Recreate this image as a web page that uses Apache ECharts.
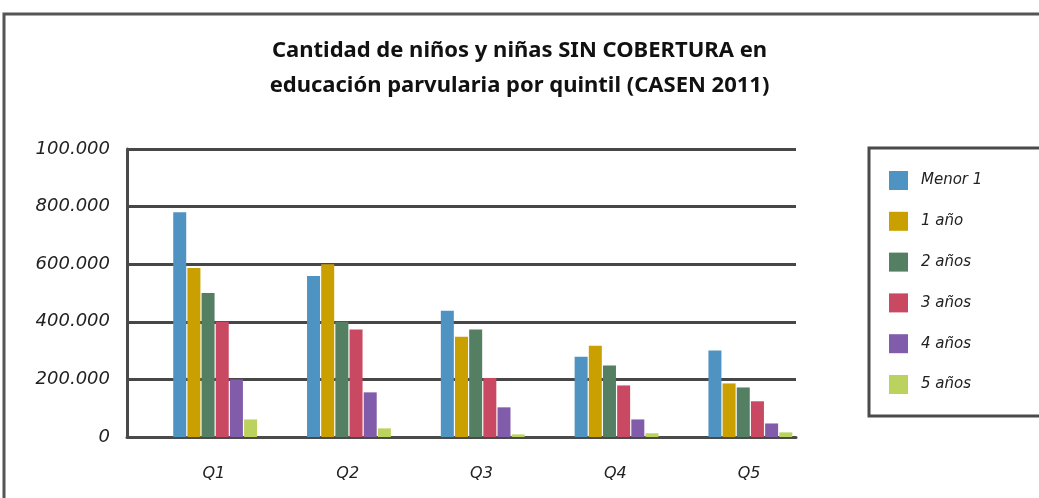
<!DOCTYPE html>
<html>
<head>
<meta charset="utf-8">
<script src="https://cdn.jsdelivr.net/npm/echarts@6/dist/echarts.min.js"></script>
<style>
  html, body { margin: 0; padding: 0; background: #fff; }
  #chart { width: 1039px; height: 498px; }
</style>
</head>
<body>
<div id="chart"></div>
<script>
const quintiles = ["Q1", "Q2", "Q3", "Q4", "Q5"];
const seriesNames = ["Menor 1", "1 año", "2 años", "3 años", "4 años", "5 años"];
const menor1 = [780000, 559000, 438000, 279000, 300000];
const anio1 = [587000, 600000, 348000, 317000, 186000];
const anios2 = [500000, 400000, 373000, 248000, 172000];
const anios3 = [400000, 373000, 205000, 179000, 124000];
const anios4 = [200000, 155000, 103000, 61000, 47000];
const anios5 = [61000, 30000, 9000, 13000, 16000];
// the chart's top tick really reads "100.000" in the original
const yTickLabels = ["0", "200.000", "400.000", "600.000", "800.000", "100.000"];

const colors = ["#4f93c2", "#c9a000", "#557f62", "#c94862", "#805caa", "#bbd35e"];
const values = [menor1, anio1, anios2, anios3, anios4, anios5];

const chart = echarts.init(document.getElementById("chart"));

const barStyle = { type: "bar", barWidth: 13, barGap: "9%" };

// three empty slots push each group to the right side of its band, as in the source
const spacers = [0, 1, 2].map(i => ({
    ...barStyle,
    name: "_pad" + i,
    data: [],
    silent: true,
}));

const realSeries = seriesNames.map((name, i) => ({
    ...barStyle,
    name: name,
    data: values[i],
    itemStyle: { color: colors[i] },
}));

chart.setOption({
    animation: false,
    title: {
        text: "Cantidad de niños y niñas SIN COBERTURA en\neducación parvularia por quintil (CASEN 2011)",
        left: "center",
        top: 28,
        textStyle: {
            fontFamily: "Noto Sans",
            fontSize: 22,
            fontWeight: "bold",
            color: "#111",
            lineHeight: 35,
        },
    },
    legend: {
        data: seriesNames,
        orient: "vertical",
        left: 884,
        top: 166,
        itemWidth: 19,
        itemHeight: 19,
        itemGap: 21.8,
        icon: "rect",
        textStyle: {
            fontFamily: "DejaVu Sans",
            fontStyle: "italic",
            fontSize: 15,
            color: "#222",
            padding: [0, 0, 0, 8],
        },
    },
    graphic: [
        {
            type: "rect",
            shape: { x: 4, y: 14, width: 1100, height: 600 },
            style: { fill: "none", stroke: "#555", lineWidth: 3 },
            silent: true,
        },
        {
            type: "rect",
            shape: { x: 869, y: 148, width: 200, height: 268 },
            style: { fill: "none", stroke: "#4a4a4a", lineWidth: 3 },
            silent: true,
        },
    ],
    grid: { left: 127, right: 243, top: 149, bottom: 61 },
    xAxis: {
        type: "category",
        data: quintiles,
        axisLine: { lineStyle: { color: "#4a4a4a", width: 3 } },
        axisTick: { show: false },
        axisLabel: {
            fontFamily: "DejaVu Sans",
            fontStyle: "italic",
            fontSize: 16,
            color: "#222",
            margin: 29,
            padding: [0, 0, 0, 40],
        },
    },
    yAxis: {
        type: "value",
        min: 0,
        max: 1000000,
        interval: 200000,
        axisLine: { show: true, lineStyle: { color: "#4a4a4a", width: 3 } },
        axisTick: { show: false },
        axisLabel: {
            fontFamily: "DejaVu Sans",
            fontStyle: "italic",
            fontSize: 18,
            color: "#222",
            margin: 17,
            formatter: v => yTickLabels[Math.round(v / 200000)],
        },
        splitLine: { lineStyle: { color: "#474747", width: 3 } },
    },
    series: spacers.concat(realSeries),
});
</script>
</body>
</html>
